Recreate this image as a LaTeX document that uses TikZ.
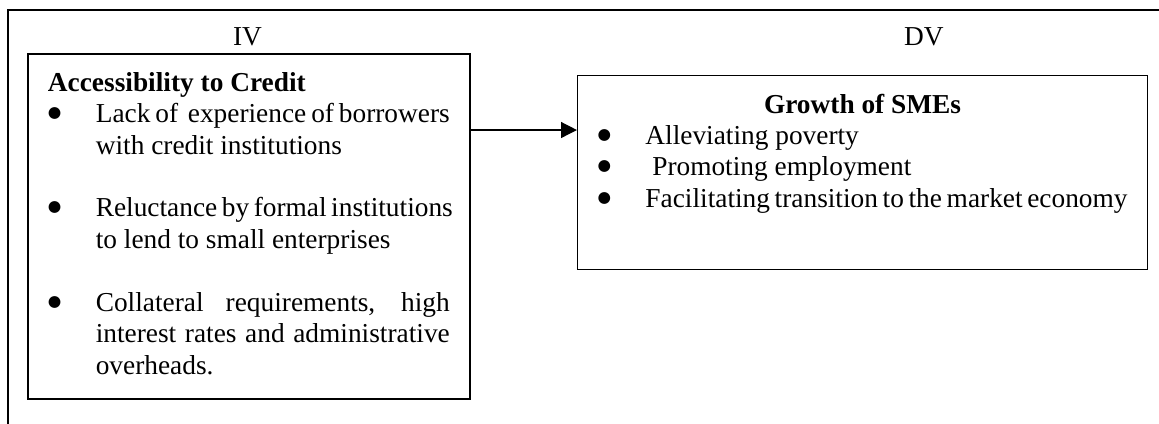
\documentclass[tikz,border=0pt]{standalone}
\usepackage{fontspec}
\setmainfont{Liberation Serif}
\newfontfamily\dotfont{DejaVu Sans}
\usetikzlibrary{arrows.meta,positioning}

\newcommand{\bulletpoint}{\par\hangindent=21pt\hangafter=1\noindent\makebox[21pt][l]{\raisebox{2.2pt}{\dotfont\fontsize{6.8pt}{6.8pt}\selectfont ●}}}
\newcommand{\fullline}[1]{\makebox[\dimexpr\linewidth-21pt\relax][s]{#1}\\}
\newcommand{\blankline}{\par\vspace{\baselineskip}}

\begin{document}
\begin{tikzpicture}[font=\fontsize{12pt}{13.8pt}\selectfont,
    box/.style={draw, anchor=north west, inner xsep=8.8pt, inner ysep=8pt}]
            \useasboundingbox (0,0) rectangle (17.872,-6.523);
            \draw[line width=0.8pt] (0.123,-6.7) |- (18.0,-0.154);
            \node (iv) at (3.817,-0.571) {IV};
            \node (dv) at (14.248,-0.571) {DV};
            \node[box, line width=0.8pt] (credit) at (0.416,-0.817) {\begin{minipage}[t][135.3pt][t]{176.3pt}
                {\bfseries Accessibility to Credit}
                \bulletpoint\fullline{Lack of\ \ experience of borrowers}with credit institutions
                \blankline
                \bulletpoint\fullline{Reluctance by formal institutions}to lend to small enterprises
                \blankline
                \bulletpoint\fullline{Collateral requirements, high}\fullline{interest rates and administrative}overheads.
            \end{minipage}};
            \node[box, line width=0.5pt] (growth) at (8.897,-1.157) {\begin{minipage}[t][69.1pt][t]{232.5pt}
                \makebox[\linewidth]{\bfseries Growth of SMEs}
                \bulletpoint Alleviating poverty
                \bulletpoint\ Promoting employment
                \bulletpoint Facilitating transition to the market economy
            \end{minipage}};
            \coordinate (arrowrow) at (0,-2.005);
            \draw[-{Triangle[length=7pt,width=7pt]}, line width=0.6pt] (credit.east |- arrowrow) -- (growth.west |- arrowrow);
        \end{tikzpicture}
\end{document}
